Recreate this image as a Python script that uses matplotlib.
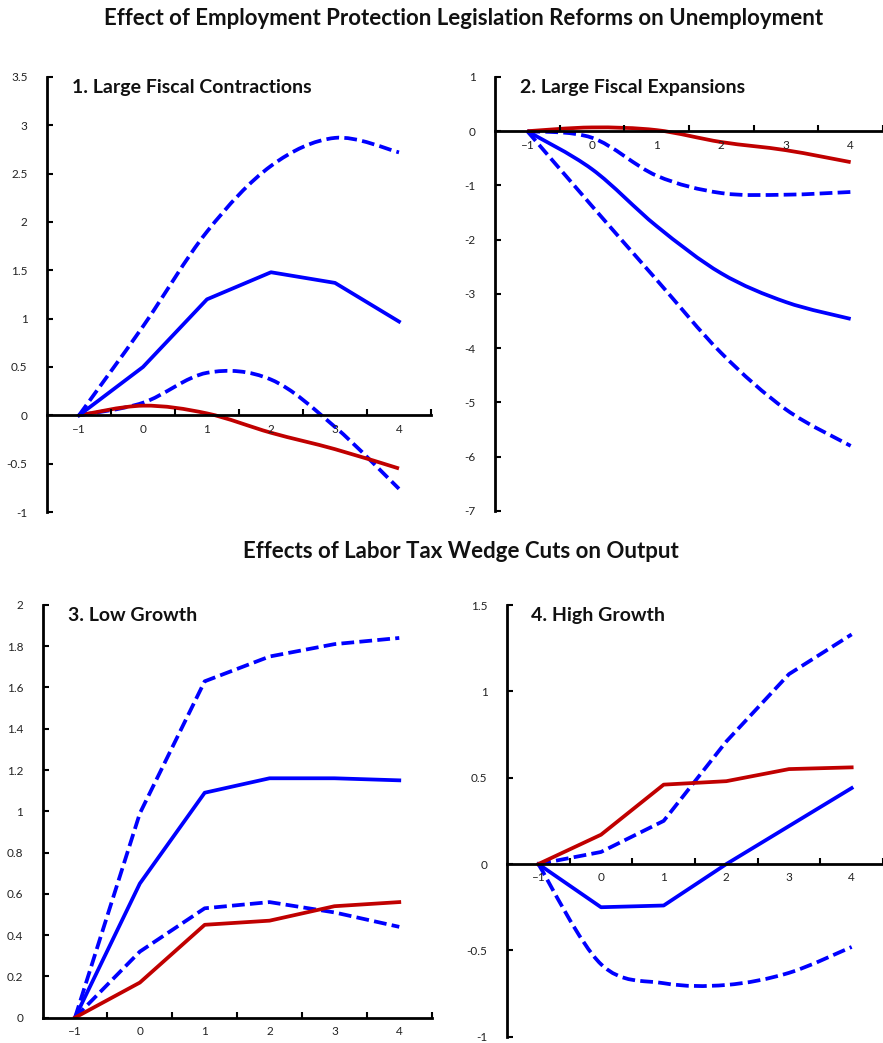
import matplotlib
matplotlib.use("Agg")
import matplotlib.pyplot as plt
from matplotlib.path import Path
from matplotlib.patches import PathPatch
import numpy as np

plt.rcParams['font.family'] = ['Lato', 'DejaVu Sans']

# horizon (years after the shock)
years = [-1, 0, 1, 2, 3, 4]

# panel 1: large fiscal contractions
p1_est = [0, 0.50, 1.20, 1.48, 1.37, 0.97]
p1_hi = [0, 0.92, 1.90, 2.58, 2.87, 2.72]
p1_lo = [0, 0.13, 0.44, 0.37, -0.12, -0.76]
p1_avg = [0, 0.10, 0.02, -0.18, -0.35, -0.55]

# panel 2: large fiscal expansions
p2_est = [0, -0.70, -1.75, -2.62, -3.15, -3.46]
p2_hi = [0, -0.12, -0.82, -1.14, -1.17, -1.12]
p2_lo = [0, -1.38, -2.74, -4.09, -5.13, -5.80]
p2_avg = [0, 0.07, 0.02, -0.20, -0.35, -0.57]

# panel 3: low growth
p3_est = [0, 0.65, 1.09, 1.16, 1.16, 1.15]
p3_hi = [0, 0.99, 1.63, 1.75, 1.81, 1.84]
p3_lo = [0, 0.32, 0.53, 0.56, 0.51, 0.44]
p3_avg = [0, 0.17, 0.45, 0.47, 0.54, 0.56]

# panel 4: high growth
p4_est = [0, -0.25, -0.24, 0.0, 0.22, 0.44]
p4_hi = [0, 0.07, 0.25, 0.71, 1.10, 1.33]
p4_lo = [0, -0.58, -0.69, -0.70, -0.63, -0.48]
p4_avg = [0, 0.17, 0.46, 0.48, 0.55, 0.56]

BLUE = '#0000FF'
RED = '#C00000'
LW = 2.7
DASH = (0, (3.4, 1.4))


# excel-like smoothed line drawn as bezier path
def smooth_line(ax, x, y, **kw):
    pts = np.column_stack([x, y]).astype(float)
    n = len(pts)
    verts = [pts[0]]
    codes = [Path.MOVETO]
    for i in range(n - 1):
        p0 = pts[max(i - 1, 0)]
        p1 = pts[i]
        p2 = pts[i + 1]
        p3 = pts[min(i + 2, n - 1)]
        c1 = p1 + (p2 - p0) / 6.0
        c2 = p2 - (p3 - p1) / 6.0
        verts += [c1, c2, p2]
        codes += [Path.CURVE4] * 3
    ax.add_patch(PathPatch(Path(verts, codes), fill=False, **kw))


def draw(ax, series, smooth):
    for y, color, ls, sm in zip(series, [BLUE, BLUE, BLUE, RED], ['-', DASH, DASH, '-'], smooth):
        if sm:
            smooth_line(ax, years, y, edgecolor=color, lw=LW, linestyle=ls,
                        capstyle='butt', joinstyle='round')
        else:
            ax.plot(years, y, color=color, lw=LW, linestyle=ls,
                    solid_joinstyle='round', dash_capstyle='butt')


def style(ax, ylim, yticks, ylabels, xmax, title):
    ax.set_xlim(-1.5, xmax)
    ax.set_ylim(*ylim)
    for s in ['top', 'right']:
        ax.spines[s].set_visible(False)
    ax.spines['bottom'].set_position(('data', 0))
    ax.spines['left'].set_linewidth(2)
    ax.spines['bottom'].set_linewidth(2)
    ax.set_yticks(yticks)
    ax.set_yticklabels(ylabels)
    ax.set_xticks(np.arange(-0.5, 4.6, 1.0))
    ax.set_xticklabels([])
    ax.set_xticks(years, minor=True)
    ax.set_xticklabels([str(v).replace('-', '\u2013') for v in years], minor=True)
    ax.tick_params(axis='x', which='major', direction='in', length=4, width=1.5)
    ax.tick_params(axis='x', which='minor', length=0, pad=6, labelsize=8.5, labelcolor='#222222')
    ax.tick_params(axis='y', direction='in', length=4, width=1.5, pad=14, labelsize=8.5,
                   labelcolor='#222222')
    ax.patch.set_alpha(0)
    ax.text(0.065, 0.995, title, transform=ax.transAxes, fontsize=14,
            fontweight='bold', va='top', ha='left', color='#111111')


fig = plt.figure(figsize=(8.83, 10.43), dpi=100)

ax1 = fig.add_axes([0.0532, 0.5091, 0.4349, 0.4171])
draw(ax1, [p1_est, p1_hi, p1_lo, p1_avg], [False, True, True, True])
style(ax1, (-1, 3.5), np.arange(-1, 3.6, 0.5),
      ['-1', '-0.5', '0', '0.5', '1', '1.5', '2', '2.5', '3', '3.5'], 4.5,
      '1. Large Fiscal Contractions')

ax2 = fig.add_axes([0.5606, 0.5101, 0.4394, 0.4161])
draw(ax2, [p2_est, p2_hi, p2_lo, p2_avg], [True] * 4)
style(ax2, (-7, 1), np.arange(-7, 1.1, 1),
      ['-7', '-6', '-5', '-4', '-3', '-2', '-1', '0', '1'], 4.395,
      '2. Large Fiscal Expansions')

ax3 = fig.add_axes([0.0482, 0.0243, 0.4407, 0.3957])
draw(ax3, [p3_est, p3_hi, p3_lo, p3_avg], [False] * 4)
style(ax3, (0, 2), np.arange(0, 2.01, 0.2),
      ['0', '0.2', '0.4', '0.6', '0.8', '1', '1.2', '1.4', '1.6', '1.8', '2'], 4.5,
      '3. Low Growth')

ax4 = fig.add_axes([0.5742, 0.006, 0.4258, 0.4139])
draw(ax4, [p4_est, p4_hi, p4_lo, p4_avg], [False, False, True, False])
style(ax4, (-1, 1.5), np.arange(-1, 1.51, 0.5),
      ['-1', '-0.5', '0', '0.5', '1', '1.5'], 4.375,
      '4. High Growth')

fig.text(0.525, 0.982, 'Effect of Employment Protection Legislation Reforms on Unemployment',
         ha='center', va='center', fontsize=16, fontweight='bold', color='#111111')
fig.text(0.522, 0.471, 'Effects of Labor Tax Wedge Cuts on Output',
         ha='center', va='center', fontsize=16, fontweight='bold', color='#111111')

fig.savefig('out.png', dpi=100)
